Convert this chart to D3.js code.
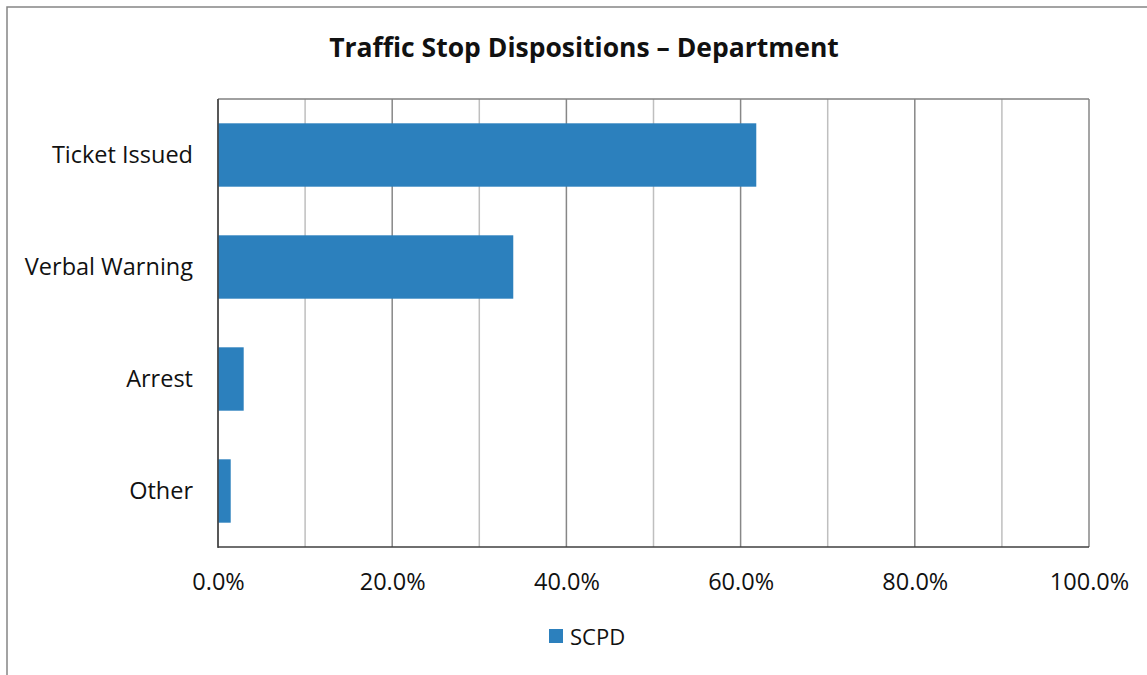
<!DOCTYPE html>
<html>
<head>
<meta charset="utf-8">
<script src="https://cdn.jsdelivr.net/npm/d3@7"></script>
<style>
  body { margin: 0; background: #fff; }
  svg { display: block; }
  svg text { font-family: "Open Sans", Lato, sans-serif; }
</style>
</head>
<body>
<div id="chart"></div>
<script>
// datos
const categories = ["Ticket Issued", "Verbal Warning", "Arrest", "Other"];
const values = [61.8, 33.9, 2.95, 1.46];
const ticks = [0, 20, 40, 60, 80, 100];
const gridTicks = [0, 10, 20, 30, 40, 50, 60, 70, 80, 90, 100];
const seriesName = "SCPD";

const W = 1147, H = 675;
const margin = { left: 218, right: W - 1089, top: 99, bottom: H - 547 };
const color = "#2c80bd";

const svg = d3.select("#chart").append("svg")
  .attr("width", W).attr("height", H);

// marco exterior
svg.append("rect")
  .attr("x", 7).attr("y", 7)
  .attr("width", W + 10).attr("height", H + 10)
  .attr("fill", "none").attr("stroke", "#858585").attr("stroke-width", 1.5);

const x = d3.scaleLinear().domain([0, 100]).range([margin.left, W - margin.right]);
const y = d3.scaleBand().domain(categories).range([margin.top, H - margin.bottom]).paddingInner(0.434).paddingOuter(0.217);

// rejilla
svg.append("g").selectAll("line").data(gridTicks).enter().append("line")
  .attr("x1", d => x(d)).attr("x2", d => x(d))
  .attr("y1", margin.top).attr("y2", H - margin.bottom)
  .attr("stroke", d => d % 20 === 0 ? "#878787" : "#bfbfbf")
  .attr("stroke-width", 1.5);

svg.append("line")
  .attr("x1", margin.left).attr("x2", W - margin.right)
  .attr("y1", margin.top).attr("y2", margin.top)
  .attr("stroke", "#808080").attr("stroke-width", 1.5);

// barras
svg.append("g").selectAll("rect").data(values).enter().append("rect")
  .attr("x", x(0))
  .attr("y", (d, i) => y(categories[i]))
  .attr("width", d => x(d) - x(0))
  .attr("height", y.bandwidth())
  .attr("fill", color);

// ejes
svg.append("line")
  .attr("x1", margin.left).attr("x2", margin.left)
  .attr("y1", margin.top).attr("y2", H - margin.bottom + 1)
  .attr("stroke", "#3f3f3f").attr("stroke-width", 1.5);
svg.append("line")
  .attr("x1", margin.left).attr("x2", W - margin.right)
  .attr("y1", H - margin.bottom).attr("y2", H - margin.bottom)
  .attr("stroke", "#3f3f3f").attr("stroke-width", 1.5);

const xAxis = svg.append("g")
  .attr("transform", `translate(0,${H - margin.bottom})`)
  .call(d3.axisBottom(x).tickValues(ticks).tickSize(0).tickPadding(26).tickFormat(d => d.toFixed(1) + "%"));
xAxis.select(".domain").remove();
xAxis.selectAll("text").style("font-size", "23.5px").attr("fill", "#111");

const yAxis = svg.append("g")
  .attr("transform", `translate(${margin.left},0)`)
  .call(d3.axisLeft(y).tickSize(0).tickPadding(25));
yAxis.select(".domain").remove();
yAxis.selectAll("text").style("font-size", "23.5px").attr("fill", "#111");

// titulo
svg.append("text")
  .attr("x", 584).attr("y", 57)
  .attr("text-anchor", "middle")
  .style("font-size", "26.5px").style("font-weight", "bold")
  .attr("fill", "#111")
  .text("Traffic Stop Dispositions \u2013 Department");

// leyenda
const leg = svg.append("g");
leg.append("rect").attr("x", 549).attr("y", 629).attr("width", 14).attr("height", 14).attr("fill", color);
leg.append("text").attr("x", 570).attr("y", 645).style("font-size", "22px").attr("fill", "#111").text(seriesName);
</script>
</body>
</html>
